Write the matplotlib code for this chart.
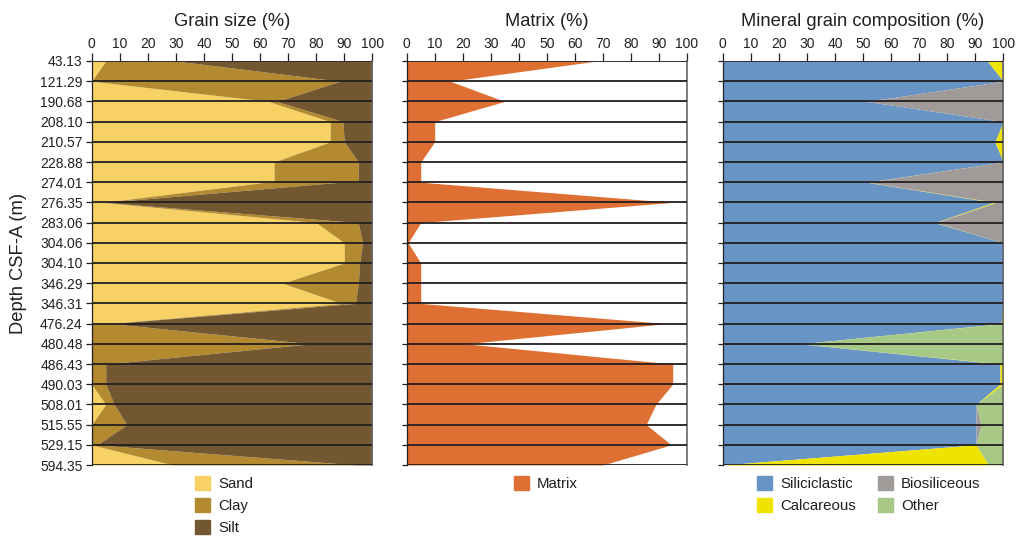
import matplotlib
matplotlib.use("Agg")
import matplotlib.pyplot as plt
from matplotlib.patches import Patch
import numpy as np

plt.rcParams['font.family'] = ['Liberation Sans', 'DejaVu Sans']

# ---------------- data ----------------
depth_labels = ["43.13", "121.29", "190.68", "208.10", "210.57", "228.88", "274.01",
                "276.35", "283.06", "304.06", "304.10", "346.29", "346.31", "476.24",
                "480.48", "486.43", "490.03", "508.01", "515.55", "529.15", "594.35"]

# Grain size vertices (row index; some rows carry two values = step at that row)
gs_rows = [0, 1, 2, 3, 4, 5, 6, 6, 7, 8, 9, 10, 11, 12, 13, 13, 14, 15, 16, 17, 18, 19, 20]
sand    = [5, 0, 63, 85, 85, 65, 65, 62, 4, 80, 90, 90, 68, 89, 6, 0, 0, 0, 0, 5, 0, 0, 29]
clay    = [25, 88.5, 3, 4.5, 5, 30, 30, 26.5, 0.5, 15, 6.5, 5.5, 27, 5, 1, 7, 78, 5, 5, 3, 12.5, 2, 65.5]
silt    = [70, 11.5, 34, 10.5, 10, 5, 5, 11.5, 95.5, 5, 3.5, 4.5, 5, 6, 93, 93, 22, 95, 95, 92, 87.5, 98, 5.5]

# Matrix (%) per depth
matrix = [68, 15.5, 35, 10, 10, 5, 5, 95, 5, 0.5, 5, 5, 5, 93, 21, 95, 95, 89, 85.5, 94.5, 70]

# Mineral grain composition (%) per depth
siliciclastic = [94.3, 100, 51.3, 100, 97, 100, 51.3, 96.5, 75.6, 100, 100, 100, 100, 99.2, 27.6, 98.8, 98.8, 90.3, 90.3, 90.3, 0]
calcareous    = [4.9, 0, 0, 0, 3, 0, 0.4, 1, 0.4, 0, 0, 0, 0, 0.8, 0, 1.2, 1.2, 0, 0, 0, 94.7]
biosiliceous  = [0.8, 0, 48.7, 0, 0, 0, 48.3, 2.5, 24, 0, 0, 0, 0, 0, 0, 0, 0, 0, 1.8, 0, 0]
other         = [0, 0, 0, 0, 0, 0, 0, 0, 0, 0, 0, 0, 0, 0, 72.4, 0, 0, 9.7, 7.9, 9.7, 5.3]

# ---------------- style ----------------
C_SAND, C_CLAY, C_SILT = "#F7D163", "#B38A30", "#735730"
C_MATRIX = "#DE7033"
C_SIL, C_CALC, C_BIO, C_OTH = "#6894C6", "#EEE400", "#A09B98", "#A8C886"
INK = "#231f20"

W, H = 1016, 536
fig = plt.figure(figsize=(W / 100, H / 100), dpi=100)

top_px, bot_px = 61, 465
def add_panel(left_px, width_px):
    return fig.add_axes([left_px / W, 1 - bot_px / H, width_px / W, (bot_px - top_px) / H])

ax1 = add_panel(91.7, 280.6)
ax2 = add_panel(406.7, 280.0)
ax3 = add_panel(722.7, 280.6)

def stack_fill(ax, rows, series, colors):
    rows = np.asarray(rows, dtype=float)
    base = np.zeros(len(rows))
    for vals, c in zip(series, colors):
        vals = np.asarray(vals, dtype=float)
        ax.fill_betweenx(rows, base, base + vals, color=c, lw=0, zorder=1)
        base = base + vals

n = len(depth_labels)
rows_all = np.arange(n)

stack_fill(ax1, gs_rows, [sand, clay, silt], [C_SAND, C_CLAY, C_SILT])
stack_fill(ax2, rows_all, [matrix], [C_MATRIX])
stack_fill(ax3, rows_all, [siliciclastic, calcareous, biosiliceous, other],
           [C_SIL, C_CALC, C_BIO, C_OTH])

for i, ax in enumerate([ax1, ax2, ax3]):
    ax.set_xlim(0, 100)
    ax.set_ylim(n - 1, 0)
    for r in rows_all:
        ax.axhline(r, color=INK, lw=1.3, zorder=3)
    ax.xaxis.tick_top()
    ax.set_xticks(np.arange(0, 101, 10))
    ax.tick_params(axis='x', direction='out', length=5.5, width=0.9, colors=INK,
                   labelsize=10, pad=1.5)
    ax.set_yticks(rows_all)
    if i == 0:
        ax.set_yticklabels(depth_labels)
        ax.tick_params(axis='y', direction='out', length=4.5, width=0.9, colors=INK,
                       labelsize=10, pad=2)
    else:
        ax.set_yticklabels([])
        ax.tick_params(axis='y', direction='out', length=3.5, width=0.9, colors=INK)
    for s in ['top', 'bottom']:
        ax.spines[s].set_visible(False)
    ax.spines['left'].set_color(INK)
    ax.spines['left'].set_linewidth(0.9)
    ax.spines['right'].set_color('#666666')
    ax.spines['right'].set_linewidth(1.2)
    ax.set_facecolor('white')

# Titles
for ax, t in zip([ax1, ax2, ax3], ["Grain size (%)", "Matrix (%)", "Mineral grain composition (%)"]):
    bb = ax.get_position()
    fig.text((bb.x0 + bb.x1) / 2, 1 - 22 / H, t, ha='center', va='center',
             fontsize=13.2, color=INK)

fig.text(19 / W, 1 - 263 / H, "Depth CSF-A (m)", rotation=90, ha='center', va='center',
         fontsize=13.2, color=INK)

# Legends
leg_kw = dict(frameon=False, fontsize=10.8, handlelength=1.0, handleheight=1.0,
              handletextpad=0.55, labelspacing=0.48, borderpad=0, borderaxespad=0,
              loc='upper left', labelcolor=INK)
ax1.legend(handles=[Patch(color=C_SAND, label="Sand"), Patch(color=C_CLAY, label="Clay"),
                    Patch(color=C_SILT, label="Silt")],
           bbox_to_anchor=(0.368, -0.028), **leg_kw)
ax2.legend(handles=[Patch(color=C_MATRIX, label="Matrix")],
           bbox_to_anchor=(0.383, -0.028), **leg_kw)
ax3.legend(handles=[Patch(color=C_SIL, label="Siliciclastic"), Patch(color=C_CALC, label="Calcareous"),
                    Patch(color=C_BIO, label="Biosiliceous"), Patch(color=C_OTH, label="Other")],
           bbox_to_anchor=(0.122, -0.028), ncol=2, columnspacing=1.45, **leg_kw)

fig.savefig("out.png", dpi=100, facecolor='white')
